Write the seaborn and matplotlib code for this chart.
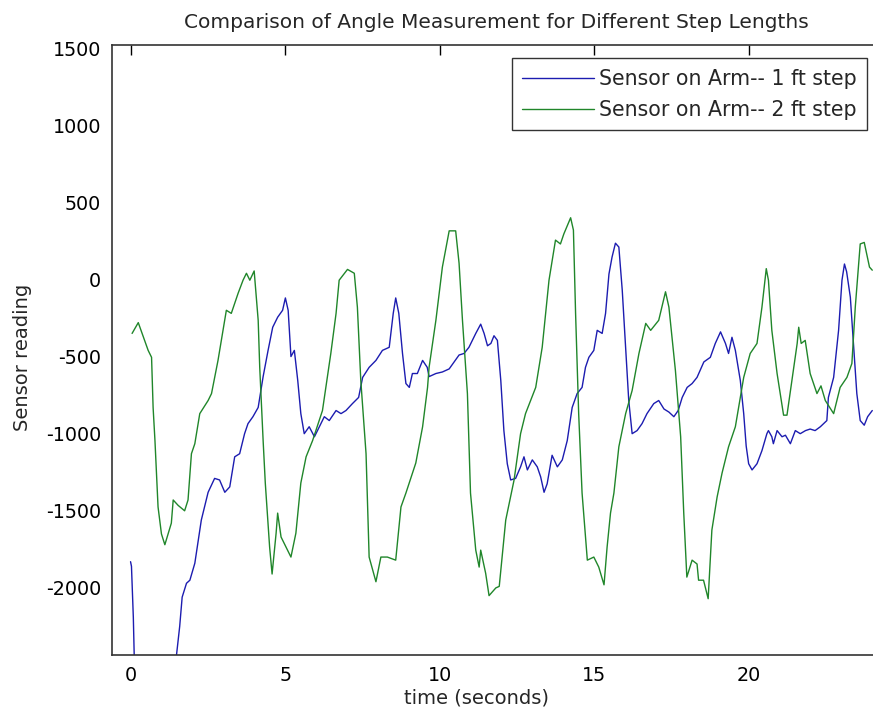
import numpy as np
import pandas as pd
import matplotlib
matplotlib.use("Agg")
import matplotlib.pyplot as plt
import seaborn as sns

# ---- data ----
t_1ft = [0.0, 0.03, 0.09, 0.12, 0.2, 0.8, 1.4, 1.49, 1.59, 1.67, 1.81, 1.92, 2.08, 2.29, 2.51, 2.72,
         2.88, 3.05, 3.21, 3.37, 3.53, 3.69, 3.8, 3.96, 4.13, 4.29, 4.45, 4.6, 4.76, 4.92,
         5.01, 5.1, 5.19, 5.3, 5.41, 5.51, 5.62, 5.78, 5.95, 6.11, 6.27, 6.43, 6.65, 6.81,
         6.97, 7.18, 7.38, 7.51, 7.72, 7.94, 8.15, 8.37, 8.5, 8.58, 8.68, 8.8, 8.91, 9.02,
         9.12, 9.28, 9.45, 9.6, 9.66, 9.88, 10.09, 10.31, 10.47, 10.63, 10.79, 10.95, 11.17,
         11.33, 11.44, 11.55, 11.66, 11.76, 11.87, 11.98, 12.08, 12.19, 12.3, 12.46, 12.62,
         12.73, 12.84, 13.0, 13.16, 13.27, 13.38, 13.48, 13.64, 13.81, 13.97, 14.13, 14.29,
         14.45, 14.61, 14.72, 14.83, 14.99, 15.1, 15.26, 15.37, 15.48, 15.58, 15.69, 15.8,
         15.91, 16.02, 16.12, 16.23, 16.39, 16.55, 16.71, 16.93, 17.09, 17.26, 17.42, 17.58,
         17.72, 17.85, 18.01, 18.17, 18.33, 18.55, 18.76, 18.92, 19.09, 19.25, 19.35, 19.46,
         19.57, 19.73, 19.84, 19.92, 20.0, 20.11, 20.27, 20.43, 20.59, 20.64, 20.75, 20.8,
         20.92, 21.08, 21.19, 21.35, 21.51, 21.67, 21.84, 21.99, 22.15, 22.32, 22.53, 22.58,
         22.75, 22.91, 23.02, 23.1, 23.17, 23.29, 23.39, 23.5, 23.61, 23.74, 23.85, 24.0]
v_1ft = [-1830, -1860, -2190, -2450, -2900, -3200, -2800, -2430, -2250, -2060, -1970, -1950,
         -1840, -1560, -1380, -1290, -1300, -1380, -1345, -1150, -1130, -1000, -935, -890,
         -830, -630, -460, -310, -245, -200, -120, -200, -500, -460, -655, -870, -1000, -955,
         -1020, -955, -890, -915, -850, -870, -850, -805, -765, -635, -570, -525, -460, -440,
         -220, -120, -220, -480, -675, -700, -610, -610, -525, -570, -630, -610, -600, -580,
         -535, -490, -480, -440, -350, -290, -350, -430, -415, -365, -395, -655, -980, -1195,
         -1300, -1290, -1215, -1150, -1235, -1170, -1215, -1280, -1380, -1325, -1140, -1215,
         -1170, -1045, -830, -740, -700, -570, -505, -460, -330, -350, -220, 35, 145, 235,
         210, -70, -440, -785, -1000, -980, -935, -870, -805, -785, -840, -860, -890, -850,
         -765, -700, -675, -635, -535, -505, -415, -340, -415, -480, -375, -460, -655, -870,
         -1080, -1195, -1235, -1195, -1110, -1000, -980, -1020, -1065, -980, -1020, -1010,
         -1065, -980, -1000, -980, -970, -980, -955, -915, -765, -635, -330, -5, 100, 50,
         -115, -415, -740, -915, -945, -890, -850]

t_2ft = [0.05, 0.25, 0.57, 0.68, 0.73, 0.79, 0.89, 1.0, 1.11, 1.32, 1.38, 1.54, 1.75, 1.86,
         1.97, 2.08, 2.24, 2.51, 2.62, 2.83, 3.1, 3.26, 3.48, 3.64, 3.75, 3.86, 4.0, 4.13,
         4.18, 4.29, 4.36, 4.5, 4.58, 4.71, 4.76, 4.87, 5.19, 5.35, 5.51, 5.68, 5.89, 6.21,
         6.32, 6.48, 6.65, 6.75, 7.02, 7.24, 7.34, 7.45, 7.62, 7.72, 7.94, 8.1, 8.31, 8.58,
         8.75, 8.91, 9.23, 9.45, 9.61, 9.66, 9.88, 10.09, 10.31, 10.52, 10.63, 10.74, 10.9,
         11.0, 11.17, 11.28, 11.33, 11.49, 11.6, 11.82, 11.93, 12.14, 12.41, 12.62, 12.78,
         13.11, 13.32, 13.54, 13.75, 13.91, 14.02, 14.24, 14.33, 14.4, 14.5, 14.61, 14.78,
         14.99, 15.15, 15.32, 15.42, 15.53, 15.64, 15.8, 16.02, 16.23, 16.45, 16.67, 16.83,
         17.09, 17.31, 17.42, 17.63, 17.8, 17.9, 18.0, 18.17, 18.33, 18.38, 18.54, 18.69,
         18.81, 18.98, 19.14, 19.35, 19.57, 19.73, 19.84, 20.05, 20.27, 20.43, 20.57, 20.64,
         20.75, 20.92, 21.13, 21.24, 21.4, 21.57, 21.62, 21.7, 21.83, 21.99, 22.21, 22.34,
         22.48, 22.75, 22.96, 23.18, 23.34, 23.45, 23.61, 23.74, 23.91, 24.0]
v_2ft = [-350, -280, -460, -505, -830, -1045, -1475, -1650, -1720, -1580, -1430, -1465,
         -1500, -1430, -1130, -1065, -870, -785, -740, -525, -200, -220, -90, -5, 40, -5,
         55, -265, -570, -1045, -1320, -1735, -1910, -1645, -1515, -1670, -1800, -1645,
         -1320, -1150, -1045, -850, -700, -480, -220, -5, 65, 40, -180, -655, -1130, -1800,
         -1960, -1800, -1800, -1820, -1475, -1385, -1190, -955, -700, -570, -265, 80, 315,
         315, 105, -265, -740, -1385, -1755, -1865, -1755, -1905, -2050, -2000, -1990, -1560,
         -1300, -1000, -870, -700, -440, -5, 255, 230, 295, 400, 320, -220, -870, -1385,
         -1820, -1800, -1865, -1980, -1735, -1515, -1385, -1085, -870, -720, -480, -285,
         -330, -265, -80, -180, -590, -1020, -1515, -1930, -1820, -1845, -1950, -1950,
         -2070, -1625, -1410, -1255, -1085, -955, -765, -635, -480, -415, -180, 70, -5,
         -330, -610, -880, -880, -655, -415, -310, -415, -395, -610, -740, -690, -785, -870,
         -700, -635, -545, -180, 230, 240, 80, 60]

labels = ["Sensor on Arm-- 1 ft step", "Sensor on Arm-- 2 ft step"]
colors = ["#1c1cb0", "#20862a"]
x_ticks = [0, 5, 10, 15, 20]
y_ticks = [-2000, -1500, -1000, -500, 0, 500, 1000, 1500]

df = pd.concat([
    pd.DataFrame({"t": t_1ft, "v": v_1ft, "series": labels[0]}),
    pd.DataFrame({"t": t_2ft, "v": v_2ft, "series": labels[1]}),
])

sns.set_style("white")
plt.rcParams["font.family"] = ["DejaVu Sans"]
plt.rcParams["axes.unicode_minus"] = False

fig = plt.figure(figsize=(8.73, 7.19), dpi=100)
W, H = 873, 719
ax_w = 880 - 112
ax = fig.add_axes([112 / W, (H - 655) / H, ax_w / W, (655 - 45) / H])

sns.lineplot(data=df, x="t", y="v", hue="series", palette=colors, hue_order=labels,
             estimator=None, sort=False, units="series", linewidth=1.0, ax=ax)

ax.set_xlim(-0.6, 24.25)
ax.set_ylim(-2435, 1520)
ax.set_xticks(x_ticks)
ax.set_yticks(y_ticks)
ax.tick_params(direction="in", length=7, width=1, top=True, right=False,
               labelsize=13.8, colors="black", pad=8)
ax.tick_params(axis="x", pad=8)
for s in ax.spines.values():
    s.set_color("#333333")
    s.set_linewidth(1.2)
ax.spines["right"].set_visible(False)

ax.set_xlabel("time (seconds)", fontsize=14)
ax.xaxis.set_label_coords((477 - 112) / ax_w, (655 - 688) / 610)
ax.set_ylabel("Sensor reading", fontsize=14)
ax.yaxis.set_label_coords((32 - 112) / ax_w, (655 - 357) / 610)
ax.set_title("Comparison of Angle Measurement for Different Step Lengths",
             fontsize=14.5, pad=12)

leg = ax.legend(loc="upper right", bbox_to_anchor=((867 - 112) / ax_w, 0.978),
                fontsize=14.8, frameon=True, fancybox=False, handlelength=3.5,
                handletextpad=0.25, borderpad=0.5, labelspacing=0.55, borderaxespad=0)
leg.get_frame().set_edgecolor("black")
leg.get_frame().set_linewidth(1.0)
leg.set_title(None)

fig.savefig("out.png", dpi=100)
